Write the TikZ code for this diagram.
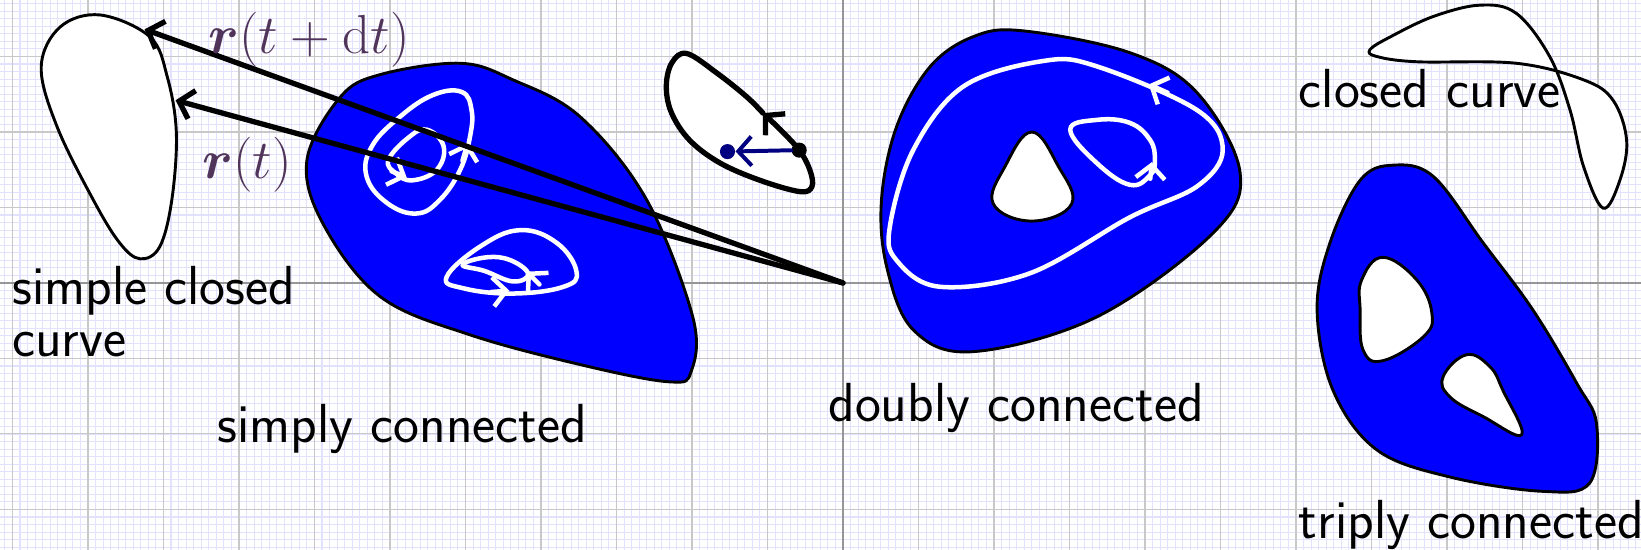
\documentclass[tikz,border=0pt]{standalone}
\usepackage{amsmath}
\usepackage{amssymb}
\usepackage{tikz}
\usetikzlibrary{arrows.meta}

\definecolor{gridfine}{RGB}{226,226,255}
\definecolor{gridmain}{RGB}{200,200,200}
\definecolor{gridaxis}{RGB}{150,150,150}
\definecolor{veclabel}{RGB}{80,52,90}
\definecolor{navyvec}{RGB}{0,0,128}

\begin{document}
\begin{tikzpicture}[x=1cm,y=1cm,>={Straight Barb[length=5pt,width=11pt]},line cap=round,line join=round,
  region/.style={draw=black,line width=1.1pt,fill=blue},
  hole/.style={draw=black,line width=1.1pt,fill=white},
  loopw/.style={draw=white,line width=1.7pt},
  dotk/.style={circle,inner sep=0pt,minimum size=2mm},
  lbl/.style={font=\huge\sffamily,inner sep=0pt,anchor=base west}]
  \useasboundingbox (-11.166,-3.536) rectangle (10.570,3.748);
  \draw[gridfine,line width=0.4pt,step=0.1] (-11.166,-3.536) grid (10.570,3.748);
  \draw[gridmain,line width=0.4pt,step=1] (-11.166,-3.536) grid (10.570,3.748);
  \draw[gridaxis,line width=0.5pt] (-11.166,0) -- (10.570,0) (0,-3.536) -- (0,3.748);

  % simple closed curve
  \draw[line width=1.1pt,fill=white] plot[smooth cycle,tension=0.6] coordinates {
    (-9.31,0.32) (-9.05,0.48) (-8.89,1.10) (-8.83,1.99) (-8.95,2.73) (-9.18,3.26)
    (-9.84,3.55) (-10.37,3.39) (-10.62,2.86) (-10.41,2.07) (-9.93,1.10) (-9.58,0.53)};

  % simply connected
  \draw[region] plot[smooth cycle,tension=0.6] coordinates {
    (-2.01,-1.17) (-1.99,-0.45) (-2.60,1.10) (-3.48,2.20) (-4.37,2.69) (-5.07,2.91)
    (-6.13,2.76) (-6.66,2.46) (-7.10,1.63) (-6.89,0.79) (-6.13,-0.18) (-4.93,-0.69)
    (-3.40,-1.10) (-2.29,-1.31)};
  \draw[loopw] plot[smooth cycle,tension=0.7] coordinates {
    (-5.07,1.50) (-4.94,1.94) (-4.92,2.29) (-5.05,2.53) (-5.43,2.49) (-5.87,2.20)
    (-6.24,1.81) (-6.31,1.41) (-6.04,1.06) (-5.65,0.92) (-5.34,1.10)};
  \draw[loopw] plot[smooth cycle,tension=0.7] coordinates {
    (-6.02,1.63) (-5.75,1.93) (-5.51,2.03) (-5.29,1.81) (-5.38,1.50) (-5.70,1.36) (-5.92,1.45)};
  \draw[loopw,->] (-5.04,1.62) -- (-4.97,1.86);
  \draw[loopw,->] (-5.98,1.48) -- (-5.78,1.40);
  \draw[loopw] plot[smooth cycle,tension=0.7] coordinates {
    (-4.37,-0.14) (-3.70,-0.05) (-3.53,0.15) (-3.79,0.53) (-4.28,0.70) (-4.81,0.48)
    (-5.25,0.08) (-5.03,-0.07)};
  \draw[loopw] plot[smooth cycle,tension=0.7] coordinates {
    (-5.04,0.24) (-4.75,0.16) (-4.37,0.02) (-4.17,0.12) (-4.40,0.30) (-4.72,0.34)};
  \draw[loopw,->] (-4.66,-0.12) -- (-4.42,-0.10);
  \draw[loopw,->] (-4.02,-0.02) -- (-4.19,0.15);

  % curve with a piece of path on it
  \draw[line width=2pt,fill=white,->] plot[smooth,tension=0.6] coordinates {
    (-1.06,2.25) (-1.28,2.47) (-1.67,2.78) (-2.07,3.04) (-2.27,2.91) (-2.34,2.60)
    (-2.27,2.25) (-2.03,1.89) (-1.63,1.59) (-1.10,1.36) (-0.57,1.21) (-0.41,1.28)
    (-0.44,1.50) (-0.58,1.76) (-0.83,2.03) (-1.06,2.25)};
  \node[dotk,fill=black] (kdot) at (-0.58,1.76) {};
  \node[dotk,fill=navyvec] (bdot) at (-1.53,1.74) {};
  \draw[navyvec,line width=1.5pt,->] (kdot) -- (bdot);

  % doubly connected
  \draw[region] plot[smooth cycle,tension=0.6] coordinates {
    (1.72,-0.91) (3.36,-0.45) (4.90,0.66) (5.26,1.46) (4.69,2.52) (3.80,3.05)
    (2.38,3.34) (1.72,3.26) (1.15,2.86) (0.71,2.07) (0.51,1.10) (0.58,0.21) (0.93,-0.62)};
  \draw[hole] plot[smooth cycle,tension=0.7] coordinates {
    (2.50,2.00) (2.15,1.55) (1.99,1.05) (2.50,0.82) (3.03,1.05) (2.85,1.55)};
  \draw[loopw] plot[smooth cycle,tension=0.6] coordinates {
    (1.28,-0.05) (2.48,0.13) (3.80,0.87) (4.69,1.28) (5.03,1.76) (4.69,2.29)
    (3.36,2.87) (2.65,2.94) (1.59,2.60) (0.93,1.76) (0.62,0.74) (0.71,0.30)};
  \draw[loopw] plot[smooth cycle,tension=0.7] coordinates {
    (3.36,2.16) (3.01,2.03) (3.36,1.59) (3.80,1.30) (4.07,1.43) (4.13,1.63) (4.07,1.89) (3.80,2.12)};
  \draw[loopw,->] (4.30,2.52) -- (4.05,2.63);
  \draw[loopw,->] (4.07,1.38) -- (4.09,1.60);

  % closed curve crossing itself
  \draw[line width=1.1pt,fill=white] plot[smooth cycle,tension=0.6] coordinates {
    (6.98,3.09) (7.25,3.26) (7.82,3.53) (8.44,3.68) (8.92,3.57) (9.36,3.00) (9.63,2.29)
    (9.81,1.54) (10.07,0.99) (10.29,1.36) (10.38,1.89) (10.20,2.42) (9.81,2.69)
    (8.92,2.91) (7.60,2.93) (7.07,3.00)};

  % triply connected
  \draw[region] plot[smooth cycle,tension=0.6] coordinates {
    (9.27,-2.76) (9.89,-2.65) (9.98,-1.86) (9.72,-1.33) (9.14,-0.36) (8.48,0.53)
    (7.82,1.41) (7.28,1.56) (6.85,1.36) (6.45,0.53) (6.28,-0.36) (6.49,-1.42)
    (7.07,-2.21) (8.04,-2.57)};
  \draw[hole] plot[smooth cycle,tension=0.7] coordinates {
    (7.15,0.34) (6.87,0.04) (6.85,-0.36) (6.89,-0.89) (7.15,-1.03) (7.69,-0.71)
    (7.80,-0.40) (7.60,0.04)};
  \draw[hole] plot[smooth cycle,tension=0.7] coordinates {
    (8.26,-0.95) (7.95,-1.24) (8.04,-1.51) (8.48,-1.77) (8.99,-2.01) (8.74,-1.42) (8.57,-1.11)};

  % position vectors
  \coordinate (O) at (0,0);
  \coordinate (rt) at (-8.84,2.42);
  \coordinate (rdt) at (-9.25,3.36);
  \draw[line width=2pt,->] (O) -- (rt);
  \draw[line width=2pt,->] (O) -- (rdt);
  \node[lbl,text=veclabel] (rdtlab) at (-8.41,3.04) {$\boldsymbol{r}(t+\mathrm{d}t)$};
  \node[lbl,text=veclabel] (rtlab) at (-8.49,1.39) {$\boldsymbol{r}(t)$};

  \node[lbl] (scc1) at (-11.01,-0.29) {simple closed};
  \node[lbl] (scc2) at (-11.01,-0.98) {curve};
  \node[lbl] (simply) at (-8.29,-2.11) {simply connected};
  \node[lbl] (doubly) at (-0.20,-1.84) {doubly connected};
  \node[lbl] (closed) at (6.03,2.33) {closed curve};
  \node[lbl] (triply) at (6.03,-3.38) {triply connected};
\end{tikzpicture}
\end{document}
